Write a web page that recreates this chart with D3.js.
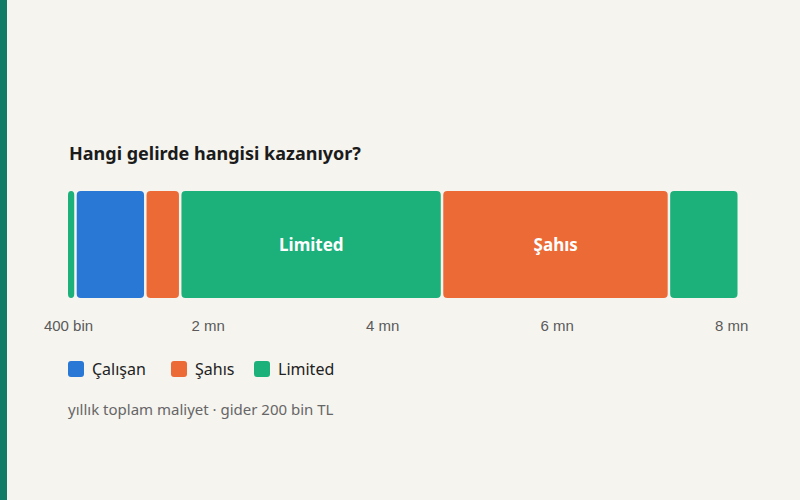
<!DOCTYPE html>
<meta charset="utf-8">
<title>Hangi gelirde hangisi kazanıyor?</title>
<style>
  html, body { margin: 0; padding: 0; background: #f5f4ef; }
  svg { display: block; font-family: "Noto Sans", "Open Sans", sans-serif; }
  .tick text { fill: #5a5a5a; font-size: 15px; }
  .axis path, .axis line { display: none; }
</style>
<body>
<svg width="800" height="500"></svg>
<script src="https://d3js.org/d3.v7.min.js"></script>
<script>

// income breakpoints (TL) and who wins in between
var breaks = [400000, 500000, 1300000, 1700000, 4700000, 7300000, 8100000];
var winners = ["Limited", "Çalışan", "Şahıs", "Limited", "Şahıs", "Limited"];
var series = ["Çalışan", "Şahıs", "Limited"];
var colors = ["#2a78d5", "#ec6a36", "#1cb07b"];
var tickValues = [400000, 2000000, 4000000, 6000000, 8000000];
var tickLabels = ["400 bin", "2 mn", "4 mn", "6 mn", "8 mn"];

var svg = d3.select("svg");

// left stripe
svg.append("rect").attr("x", 0).attr("y", 0).attr("width", 7).attr("height", 500).attr("fill", "#117c66");

var x = d3.scaleLinear().domain([breaks[0], breaks[breaks.length - 1]]).range([68, 740]);
var color = d3.scaleOrdinal().domain(series).range(colors);
var barTop = 191, barH = 107;

svg.append("text")
  .attr("x", 69).attr("y", 160)
  .attr("font-size", 18).attr("font-weight", "bold").attr("fill", "#1b1b1b")
  .text("Hangi gelirde hangisi kazanıyor?");

var segs = winners.map(function(w, i) { return {name: w, a: breaks[i], b: breaks[i + 1]}; });

var g = svg.append("g");
g.selectAll("rect")
  .data(segs)
  .enter().append("rect")
  .attr("x", function(d) { return x(d.a); })
  .attr("y", barTop)
  .attr("width", function(d) { return x(d.b) - x(d.a) - 2.5; })
  .attr("height", barH)
  .attr("rx", 4)
  .attr("fill", function(d) { return color(d.name); });

// labels only on the wide segments
g.selectAll("text")
  .data(segs.filter(function(d) { return x(d.b) - x(d.a) > 150; }))
  .enter().append("text")
  .attr("x", function(d) { return (x(d.a) + x(d.b)) / 2 - 1; })
  .attr("y", barTop + barH / 2 + 6)
  .attr("text-anchor", "middle")
  .attr("font-size", 17).attr("font-weight", "bold").attr("fill", "#fff")
  .text(function(d) { return d.name; });

svg.append("g")
  .attr("class", "axis")
  .attr("transform", "translate(0," + 313 + ")")
  .call(d3.axisBottom(x).tickValues(tickValues).tickSize(0).tickPadding(7)
    .tickFormat(function(d, i) { return tickLabels[i]; }))
  .selectAll("text").attr("font-family", null).attr("font-size", null);

// legend
var legX = [68, 171, 254];
var leg = svg.selectAll(".leg")
  .data(series)
  .enter().append("g")
  .attr("class", "leg")
  .attr("transform", function(d, i) { return "translate(" + legX[i] + ",361)"; });
leg.append("rect").attr("width", 16).attr("height", 16).attr("rx", 3)
  .attr("fill", function(d) { return color(d); });
leg.append("text").attr("x", 24).attr("y", 14)
  .attr("font-size", 16).attr("fill", "#222")
  .text(function(d) { return d; });

svg.append("text")
  .attr("x", 68).attr("y", 415)
  .attr("font-size", 15).attr("fill", "#666")
  .text("yıllık toplam maliyet · gider 200 bin TL");

</script>
</body>
